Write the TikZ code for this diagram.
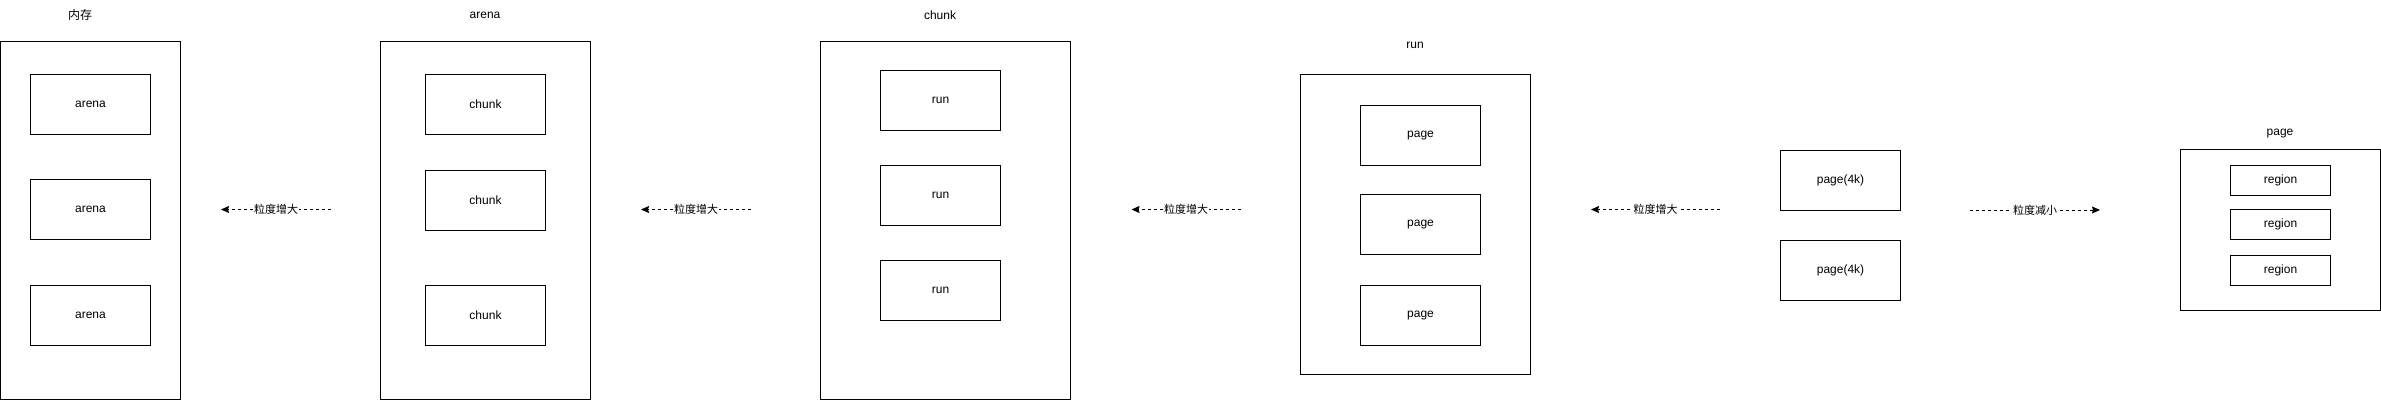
\documentclass[tikz,border=0pt]{standalone}
\usepackage{fontspec}
\setmainfont{Liberation Sans}
\newfontfamily\cjk{Noto Sans CJK SC}
\usetikzlibrary{arrows.meta}

\tikzset{
  box/.style={draw, line width=1pt, inner sep=0pt, minimum width=120pt, minimum height=60pt},
  smallbox/.style={box, minimum width=100pt, minimum height=30pt},
  frame/.style={draw, line width=1pt, inner sep=0pt},
  title/.style={inner sep=0pt},
  flow/.style={dashed, dash pattern=on 3pt off 3pt, line width=1pt, -{Stealth[length=8pt, width=7pt, inset=1pt]}},
  lbl/.style={fill=white, inner sep=1pt, font=\cjk\fontsize{11}{13}\selectfont}
}

\begin{document}
\begin{tikzpicture}[x=1pt, y=-1pt, font=\fontsize{12}{14}\selectfont]

  \useasboundingbox (0,0) rectangle (2381,401);

  %% memory
  \node[title] (memT) at (80,15) {\cjk 内存};
  \node[frame, minimum width=180pt, minimum height=358pt] (mem) at (90.5,220.5) {};
  \node[box] (ar1) at (90.5,104.5) {arena};
  \node[box] (ar2) at (90.5,209.5) {arena};
  \node[box] (ar3) at (90.5,315.5) {arena};

  %% arena
  \node[title] (arT) at (485,15) {arena};
  \node[frame, minimum width=210pt, minimum height=358pt] (arena) at (485.5,220.5) {};
  \node[box] (ch1) at (485.5,104.5) {chunk};
  \node[box] (ch2) at (485.5,200.5) {chunk};
  \node[box] (ch3) at (485.5,315.5) {chunk};

  %% chunk
  \node[title] (chT) at (940,15) {chunk};
  \node[frame, minimum width=250pt, minimum height=358pt] (chunk) at (945.5,220.5) {};
  \node[box] (rn1) at (940.5,100.5) {run};
  \node[box] (rn2) at (940.5,195.5) {run};
  \node[box] (rn3) at (940.5,290.5) {run};

  %% run
  \node[title] (rnT) at (1415,45) {run};
  \node[frame, minimum width=230pt, minimum height=300pt] (run) at (1415.5,224.5) {};
  \node[box] (pg1) at (1420.5,135.5) {page};
  \node[box] (pg2) at (1420.5,224.5) {page};
  \node[box] (pg3) at (1420.5,315.5) {page};

  %% pages
  \node[box] (pk1) at (1840.5,180.5) {page(4k)};
  \node[box] (pk2) at (1840.5,270.5) {page(4k)};

  %% page
  \node[title] (pgT) at (2280,134) {page};
  \node[frame, minimum width=200pt, minimum height=161pt] (page) at (2280.5,230) {};
  \node[smallbox] (rg1) at (2280.5,180.5) {region};
  \node[smallbox] (rg2) at (2280.5,224.5) {region};
  \node[smallbox] (rg3) at (2280.5,270.5) {region};

  %% arrows
  \coordinate (a1s) at (331,209.5);   \coordinate (a1e) at (221,209.5);
  \coordinate (a2s) at (751,209.5);   \coordinate (a2e) at (641,209.5);
  \coordinate (a3s) at (1240.5,209.5);\coordinate (a3e) at (1131.5,209.5);
  \coordinate (a4s) at (1720,209.5);  \coordinate (a4e) at (1591,209.5);
  \coordinate (a5s) at (1970,210);    \coordinate (a5e) at (2100,210);

  \draw[flow] (a1s) -- node[lbl]{粒度增大} (a1e);
  \draw[flow] (a2s) -- node[lbl]{粒度增大} (a2e);
  \draw[flow] (a3s) -- node[lbl]{粒度增大} (a3e);
  \draw[flow] (a4s) -- node[lbl]{粒度增大} (a4e);
  \draw[flow] (a5s) -- node[lbl]{粒度减小} (a5e);

\end{tikzpicture}
\end{document}
